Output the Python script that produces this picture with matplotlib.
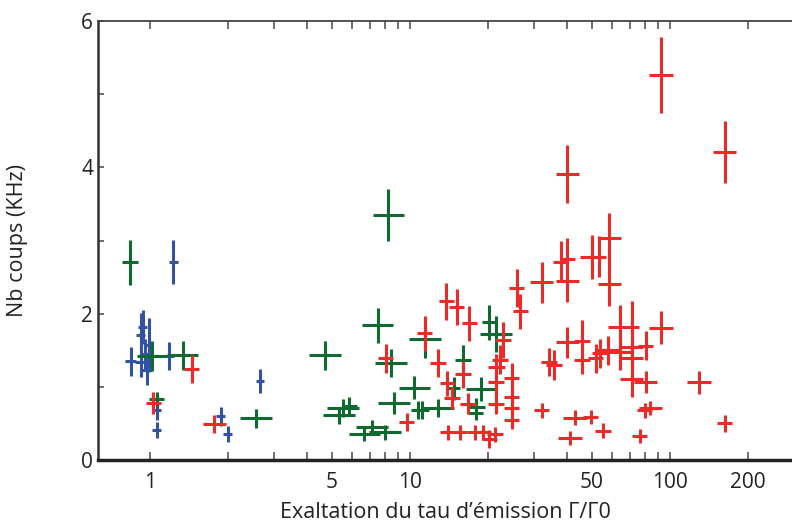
import matplotlib.pyplot as plt
import numpy as np
from matplotlib.ticker import FixedLocator, NullFormatter

plt.rcParams['font.family'] = ['Open Sans', 'DejaVu Sans']

# Blue series: x, y, y error, x error factor (multiplicative)
blue_x = [1.23, 0.937, 0.92, 0.99, 0.843, 0.92, 0.97, 1.186, 2.65, 1.06, 1.06, 1.87, 1.99, 0.96]
blue_y = [2.71, 1.82, 1.71, 1.57, 1.35, 1.34, 1.23, 1.42, 1.08, 0.68, 0.41, 0.60, 0.35, 1.45]
blue_ye = [0.30, 0.23, 0.30, 0.37, 0.20, 0.20, 0.20, 0.19, 0.17, 0.13, 0.11, 0.13, 0.11, 0.20]
blue_xf = [1.04, 1.04, 1.04, 1.04, 1.05, 1.05, 1.05, 1.04, 1.04, 1.04, 1.04, 1.04, 1.04, 1.04]

# Green series
green_x = [0.838, 1.015, 1.336, 1.06, 2.56, 8.25, 4.71, 7.5, 11.4, 8.43, 10.4, 8.67, 5.53, 5.84,
           5.34, 10.77, 12.85, 7.13, 6.67, 8.02, 20.2, 21.4, 16.0, 18.8, 17.9, 14.7, 18.0, 11.1]
green_y = [2.70, 1.42, 1.43, 0.83, 0.57, 3.35, 1.43, 1.84, 1.65, 1.33, 0.99, 0.78, 0.71, 0.74,
           0.61, 0.68, 0.71, 0.45, 0.36, 0.38, 1.88, 1.72, 1.37, 0.97, 0.64, 0.98, 0.73, 0.68]
green_ye = [0.31, 0.20, 0.20, 0.10, 0.13, 0.36, 0.20, 0.24, 0.26, 0.19, 0.16, 0.15, 0.12, 0.12,
            0.12, 0.12, 0.12, 0.10, 0.10, 0.10, 0.24, 0.25, 0.20, 0.16, 0.10, 0.16, 0.12, 0.12]
green_xf = [1.07, 1.14, 1.15, 1.07, 1.15, 1.15, 1.15, 1.15, 1.15, 1.15, 1.15, 1.15, 1.15, 1.07,
            1.15, 1.07, 1.15, 1.15, 1.15, 1.15, 1.07, 1.15, 1.07, 1.15, 1.07, 1.06, 1.08, 1.07]

# Red series
red_x = [1.447, 1.03, 1.77, 8.07, 9.7, 11.4, 12.8, 13.8, 15.1, 16.9, 13.9, 14.5, 16.0, 16.7,
         14.0, 15.5, 17.8, 19.1, 20.2, 21.2, 22.8, 22.2, 21.5, 21.4, 21.4, 24.6, 24.6, 24.6,
         24.6, 25.7, 26.6, 32.1, 32.1, 34.2, 35.8, 38.0, 40.3, 40.3, 40.3, 40.3, 45.9, 45.9,
         43.1, 49.5, 41.2, 50.0, 53.2, 58.5, 58.5, 51.8, 53.7, 57.7, 55.3, 64.1, 71.1, 64.1,
         71.1, 71.1, 71.1, 80.6, 80.6, 80.0, 84.0, 76.5, 92.2, 92.4, 129.0, 162.0, 162.0]
red_y = [1.24, 0.78, 0.49, 1.39, 0.52, 1.73, 1.33, 2.17, 2.09, 1.87, 1.05, 0.85, 1.17, 0.77,
         0.38, 0.38, 0.38, 0.38, 0.29, 0.35, 1.64, 1.37, 1.27, 1.07, 0.77, 1.12, 0.86, 0.71,
         0.55, 2.35, 2.03, 2.43, 0.68, 1.34, 1.30, 2.71, 2.75, 2.44, 3.91, 1.61, 1.62, 1.37,
         0.58, 0.59, 0.30, 2.78, 2.78, 3.03, 2.41, 1.39, 1.46, 1.50, 0.40, 1.82, 1.82, 1.48,
         1.55, 1.39, 1.11, 1.56, 1.06, 0.68, 0.71, 0.33, 1.81, 5.26, 1.06, 4.21, 0.50]
red_ye = [0.19, 0.15, 0.12, 0.20, 0.12, 0.24, 0.19, 0.25, 0.25, 0.24, 0.17, 0.15, 0.18, 0.14,
          0.10, 0.10, 0.10, 0.10, 0.12, 0.10, 0.25, 0.20, 0.18, 0.17, 0.14, 0.20, 0.15, 0.13,
          0.12, 0.26, 0.24, 0.28, 0.10, 0.19, 0.20, 0.28, 0.28, 0.28, 0.40, 0.21, 0.30, 0.20,
          0.10, 0.10, 0.10, 0.30, 0.28, 0.35, 0.30, 0.20, 0.20, 0.20, 0.10, 0.30, 0.35, 0.25,
          0.30, 0.25, 0.25, 0.20, 0.15, 0.10, 0.10, 0.10, 0.23, 0.52, 0.16, 0.43, 0.12]
red_xf = [1.07, 1.07, 1.11, 1.07, 1.07, 1.07, 1.07, 1.07, 1.07, 1.07, 1.07, 1.07, 1.07, 1.07,
          1.07, 1.07, 1.07, 1.07, 1.07, 1.07, 1.07, 1.07, 1.08, 1.07, 1.07, 1.07, 1.07, 1.07,
          1.07, 1.07, 1.07, 1.11, 1.07, 1.07, 1.07, 1.07, 1.07, 1.11, 1.11, 1.11, 1.07, 1.07,
          1.11, 1.07, 1.11, 1.11, 1.07, 1.11, 1.11, 1.07, 1.07, 1.11, 1.07, 1.11, 1.07, 1.11,
          1.11, 1.11, 1.11, 1.07, 1.11, 1.07, 1.11, 1.07, 1.11, 1.11, 1.11, 1.11, 1.07]

xtick_major = [1, 5, 10, 50, 100, 200]
xtick_minor = [2, 3, 4, 6, 7, 8, 9, 20, 30, 40, 60, 70, 80, 90]

fig = plt.figure(figsize=(7.92, 5.23), dpi=100)
ax = fig.add_axes([98 / 792, 63 / 523, 1 - 98 / 792, 439 / 523])


def draw(xs, ys, yes, xfs, color):
    xs = np.array(xs)
    xfs = np.array(xfs)
    xerr = [xs - xs / xfs, xs * xfs - xs]
    ax.errorbar(xs, ys, yerr=yes, xerr=xerr, fmt='none', ecolor=color,
                elinewidth=2.2, capsize=0)


draw(blue_x, blue_y, blue_ye, blue_xf, '#3352a4')
draw(green_x, green_y, green_ye, green_xf, '#0f6a30')
draw(red_x, red_y, red_ye, red_xf, '#ec2a27')

ax.set_xscale('log')
ax.set_xlim(0.631, 294.5)
ax.set_ylim(0, 6)

ax.xaxis.set_major_locator(FixedLocator(xtick_major))
ax.xaxis.set_minor_locator(FixedLocator(xtick_minor))
ax.set_xticklabels([str(v) for v in xtick_major])
ax.xaxis.set_minor_formatter(NullFormatter())
ax.set_yticks([0, 2, 4, 6])
ax.set_yticks([1, 3, 5], minor=True)

ax.tick_params(which='both', direction='in', top=True, right=False, length=6,
               width=1.2, color='#555555', labelsize=15, labelcolor='#222222')
ax.tick_params(axis='x', which='both', pad=9)
ax.tick_params(axis='y', which='both', length=4)

ax.spines['right'].set_visible(False)
ax.spines['bottom'].set_linewidth(2.5)
ax.spines['left'].set_linewidth(1.8)
ax.spines['top'].set_linewidth(1.3)
ax.spines['top'].set_color('#444444')
ax.spines['left'].set_color('#333333')
ax.spines['bottom'].set_color('#222222')

ax.set_xlabel('Exaltation du tau d\u2019émission \u0393/\u03930', fontsize=15.5, color='#222222', labelpad=6)
ax.set_ylabel('Nb coups (KHz)', fontsize=15.5, color='#222222', labelpad=38)

fig.savefig('out.png', dpi=100)
